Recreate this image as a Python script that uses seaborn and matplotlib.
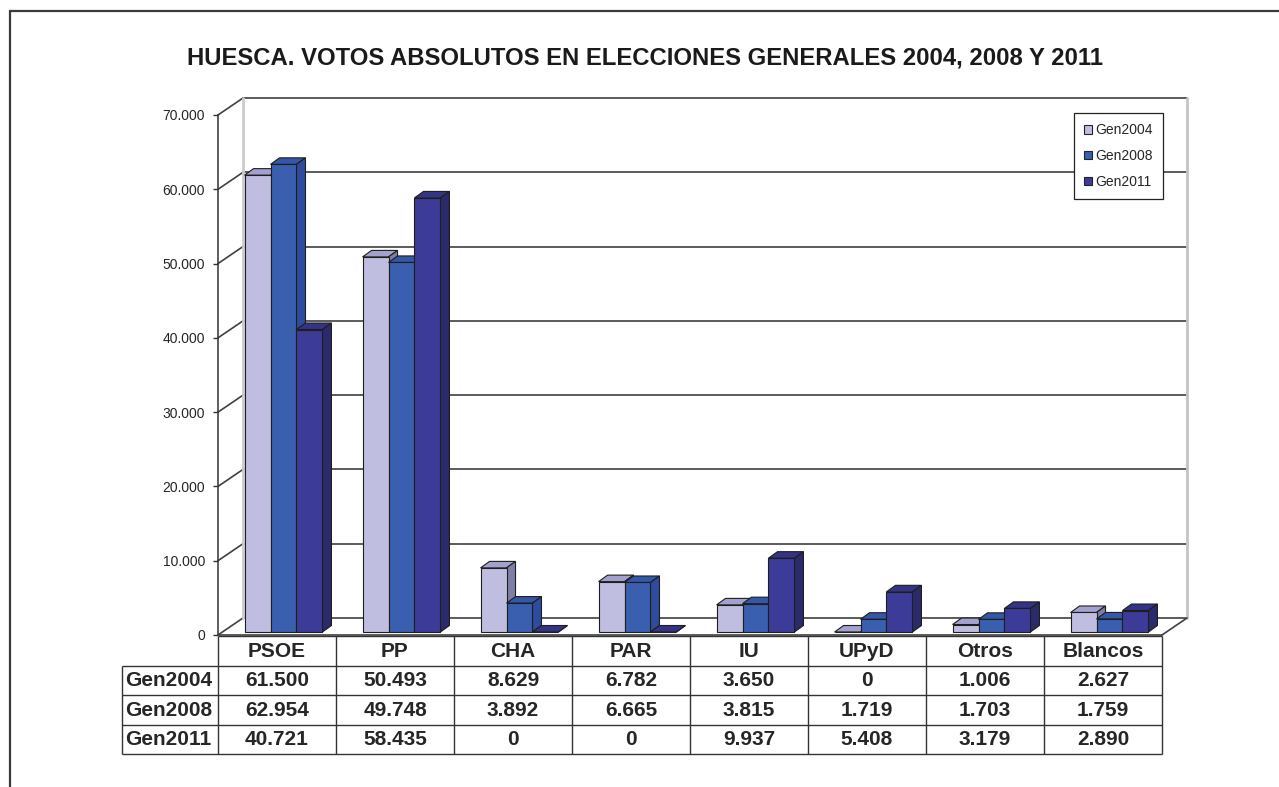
import numpy as np
import pandas as pd
import seaborn as sns
import matplotlib.pyplot as plt
from matplotlib.colors import to_rgb
from matplotlib.patches import Polygon, Patch
from matplotlib.lines import Line2D

# ---------------------------------------------------------------
# DATA
# ---------------------------------------------------------------
parties = ["PSOE", "PP", "CHA", "PAR", "IU", "UPyD", "Otros", "Blancos"]
series = ["Gen2004", "Gen2008", "Gen2011"]
gen2004 = [61500, 50493, 8629, 6782, 3650, 0, 1006, 2627]
gen2008 = [62954, 49748, 3892, 6665, 3815, 1719, 1703, 1759]
gen2011 = [40721, 58435, 0, 0, 9937, 5408, 3179, 2890]
yticks = [0, 10000, 20000, 30000, 40000, 50000, 60000, 70000]

df = pd.DataFrame({
    "partido": parties * 3,
    "eleccion": [s for s in series for _ in parties],
    "votos": gen2004 + gen2008 + gen2011,
})

front = {"Gen2004": "#bfbee0", "Gen2008": "#3a5fae", "Gen2011": "#3c3b98"}
top = {"Gen2004": "#a3a2cf", "Gen2008": "#3557a8", "Gen2011": "#343386"}
side = {"Gen2004": "#7e7fa4", "Gen2008": "#2e4b9e", "Gen2011": "#2b2a6b"}

def fmt(v):
    return f"{v:,}".replace(",", ".")

# ---------------------------------------------------------------
# FIGURE / GEOMETRY (pixels -> data)
# ---------------------------------------------------------------
sns.set_theme(style="white")
plt.rcParams['font.family'] = ['Liberation Sans', 'DejaVu Sans']

W, H = 1279, 787
fig = plt.figure(figsize=(W / 100, H / 100), dpi=100)

px_x = 118.0                 # pixels per category
px_y = 520.0 / 70000         # pixels per vote
BX, BY = 25 / px_x, 17 / px_y          # back wall offset
FX, FY = 6.5 / px_x, 3 / px_y          # bar front face offset
DX, DY = 9 / px_x, 6.5 / px_y          # bar depth

x0, y0 = 218, 635            # front axis origin in pixels
ax_w = (8 + BX) * px_x
ax_h = (70000 + BY) * px_y
ax = fig.add_axes([x0 / W, 1 - y0 / H, ax_w / W, ax_h / H])

sns.barplot(data=df, x="partido", y="votos", hue="eleccion",
            hue_order=series, palette=front, width=0.66, saturation=1,
            edgecolor="#1e1e1e", linewidth=0.8, legend=False, ax=ax)

ax.set_xlim(-0.5, 7.5 + BX)
ax.set_ylim(0, 70000 + BY)

# back wall grid + connectors
grid_c = "#404040"
for v in yticks:
    ax.plot([-0.5 + BX, 7.5 + BX], [v + BY, v + BY], color=grid_c, lw=1.2, zorder=1, clip_on=False)
    ax.plot([-0.5, -0.5 + BX], [v, v + BY], color=grid_c, lw=1.2, zorder=1, clip_on=False)
ax.plot([-0.5 + BX, -0.5 + BX], [BY, 70000 + BY], color="#cccccc", lw=2.0, zorder=1, clip_on=False)
ax.plot([7.5 + BX, 7.5 + BX], [BY, 70000 + BY], color="#c4c4c4", lw=2.0, zorder=1, clip_on=False)
ax.plot([7.5, 7.5 + BX], [0, BY], color=grid_c, lw=1.2, zorder=1, clip_on=False)
ax.plot([-0.5, 7.5], [0, 0], color=grid_c, lw=1.2, zorder=1, clip_on=False)

# 3D bars: shift front faces and add top / side faces
bars = sorted(ax.patches, key=lambda p: p.get_x())
for k, p in enumerate(bars):
    rgb = np.array(p.get_facecolor()[:3])
    name = min(series, key=lambda s: np.sum((np.array(to_rgb(front[s])) - rgb) ** 2))
    x = p.get_x() + FX
    w = p.get_width()
    h = p.get_height()
    p.set_x(x)
    p.set_y(FY)
    z = 3 + k * 0.01
    p.set_zorder(z + 0.005)
    yt = FY + h
    ax.add_patch(Polygon([(x, yt), (x + w, yt), (x + w + DX, yt + DY), (x + DX, yt + DY)],
                         closed=True, facecolor=top[name], edgecolor="#1e1e1e", lw=0.8, zorder=z))
    ax.add_patch(Polygon([(x + w, FY), (x + w + DX, FY + DY), (x + w + DX, yt + DY), (x + w, yt)],
                         closed=True, facecolor=side[name], edgecolor="#1e1e1e", lw=0.8, zorder=z))

# axis styling
for s in ["top", "right", "bottom"]:
    ax.spines[s].set_visible(False)
ax.spines["left"].set_bounds(0, 70000)
ax.spines["left"].set_color("#333333")
ax.spines["left"].set_linewidth(1.1)
ax.set_yticks(yticks)
ax.set_yticklabels([fmt(v) for v in yticks], fontsize=10)
ax.tick_params(axis="y", direction="out", length=3.6, width=1, color="#333333", pad=5.8, left=True)
ax.set_xticks([])
ax.set_xlabel("")
ax.set_ylabel("")
ax.grid(False)

handles = [Patch(facecolor=front[s], edgecolor="#222222", linewidth=0.8, label=s) for s in series]
leg = ax.legend(handles=handles, loc="upper right",
                bbox_to_anchor=((1163 - x0) / ax_w, (y0 - 113) / ax_h),
                borderaxespad=0, fontsize=10, handlelength=0.55, handleheight=0.55,
                handletextpad=0.25, labelspacing=0.85, borderpad=0.75,
                fancybox=False, frameon=True, edgecolor="#222222", framealpha=1)
leg.get_frame().set_linewidth(0.9)
leg.set_zorder(10)

# ---------------------------------------------------------------
# DATA TABLE
# ---------------------------------------------------------------
lab_w = 96 / px_x
tx0, tx1, ty0, ty1 = 122, 1162, 636, 754
tab = fig.add_axes([tx0 / W, 1 - ty1 / H, (tx1 - tx0) / W, (ty1 - ty0) / H])
tab.set_xlim(-0.5 - lab_w, 7.5)
tab.set_ylim(4, 0)
tab.axis("off")
line_c = "#333333"
tab.hlines(0, -0.5, 7.5, color=line_c, lw=1, clip_on=False)
tab.hlines([1, 2, 3, 4], -0.5 - lab_w, 7.5, color=line_c, lw=1, clip_on=False)
tab.vlines(-0.5 - lab_w, 1, 4, color=line_c, lw=1, clip_on=False)
tab.vlines(np.arange(len(parties) + 1) - 0.5, 0, 4, color=line_c, lw=1, clip_on=False)
for i, name in enumerate(parties):
    tab.text(i, 0.52, name, ha="center", va="center", fontsize=15, fontweight="bold")
for r, (s, vals) in enumerate(zip(series, [gen2004, gen2008, gen2011])):
    tab.text(-0.5 - lab_w + 3 / px_x, r + 1.52, s, ha="left", va="center", fontsize=15, fontweight="bold")
    for i, v in enumerate(vals):
        tab.text(i, r + 1.52, fmt(v), ha="center", va="center", fontsize=15, fontweight="bold")

# ---------------------------------------------------------------
# TITLE + FRAME
# ---------------------------------------------------------------
fig.text(645 / W, 1 - 58 / H, "HUESCA. VOTOS ABSOLUTOS EN ELECCIONES GENERALES 2004, 2008 Y 2011",
         ha="center", va="center", fontsize=17.2, fontweight="bold", color="#1a1a1a")
fig.add_artist(Line2D([10 / W, 10 / W], [0, 1 - 11 / H], transform=fig.transFigure, color="#3a3a3a", lw=1.6))
fig.add_artist(Line2D([10 / W, 1], [1 - 11 / H, 1 - 11 / H], transform=fig.transFigure, color="#3a3a3a", lw=1.6))

fig.savefig("out.png", dpi=100)
